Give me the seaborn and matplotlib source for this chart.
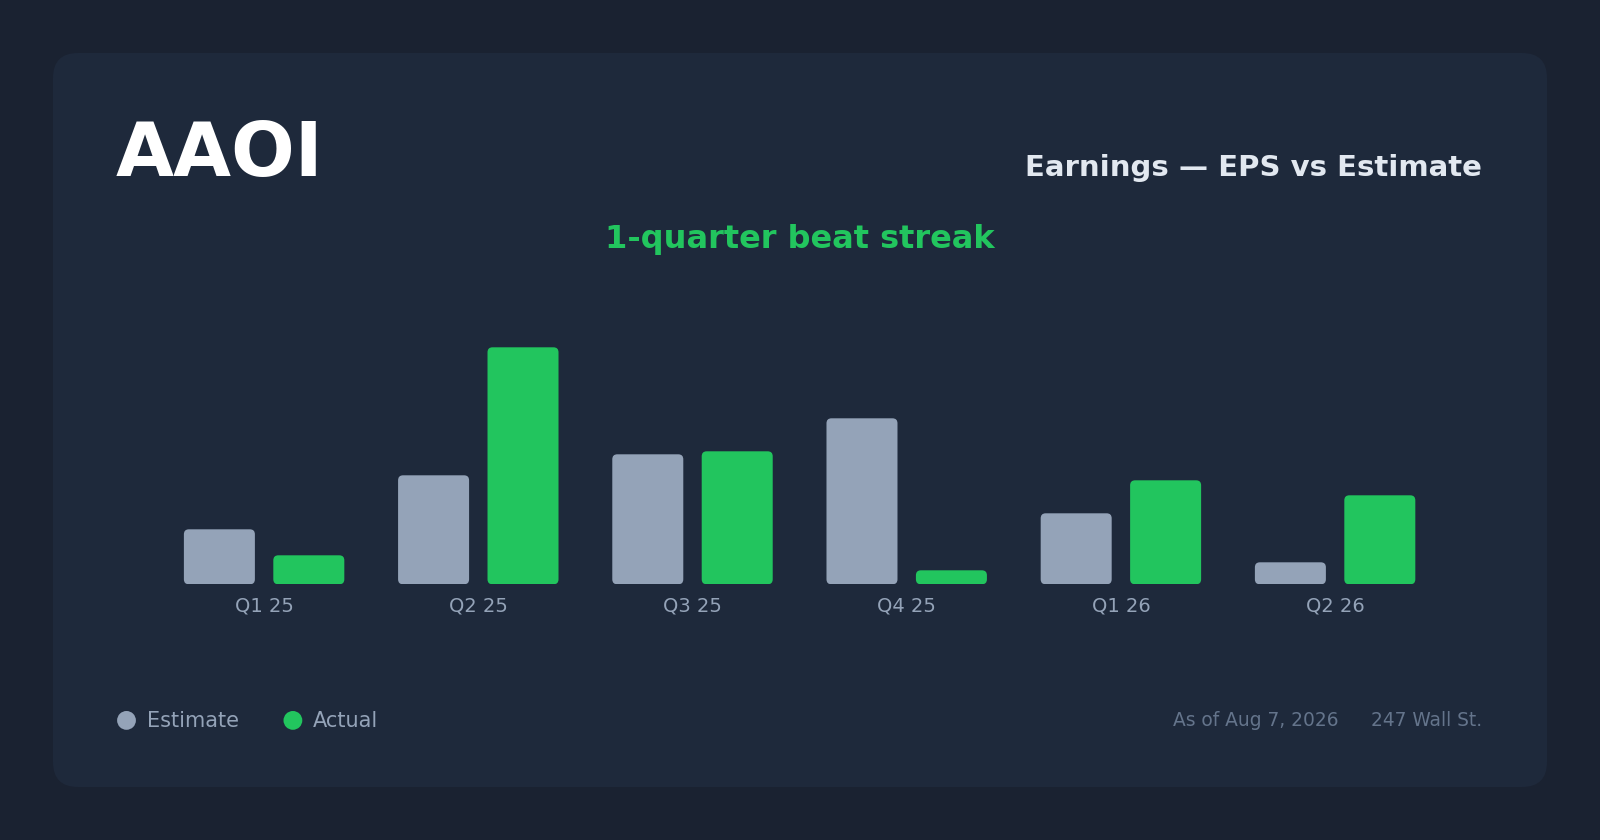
import numpy as np
import pandas as pd
import matplotlib
matplotlib.use("Agg")
import matplotlib.pyplot as plt
from matplotlib.patches import FancyBboxPatch, Circle
import seaborn as sns

# ---- data ----
quarters = ["Q1 25", "Q2 25", "Q3 25", "Q4 25", "Q1 26", "Q2 26"]
estimate = [0.055, 0.109, 0.130, 0.166, 0.071, 0.022]
actual = [0.029, 0.237, 0.133, 0.014, 0.104, 0.089]
series_names = ["Estimate", "Actual"]
ticker = "AAOI"
header = "Earnings \u2014 EPS vs Estimate"
streak_text = "1-quarter beat streak"
asof_text = "As of Aug 7, 2026"
source_text = "247 Wall St."

# ---- style ----
BG = "#1a2231"
CARD = "#1e293b"
C_EST = "#94a3b8"
C_ACT = "#22c55e"
MUTED = "#94a3b8"
FOOT = "#64748b"

sns.set_theme(style="white")
plt.rcParams["font.family"] = ["DejaVu Sans"]

df = pd.DataFrame({
    "Quarter": quarters * 2,
    "Series": [series_names[0]] * len(quarters) + [series_names[1]] * len(quarters),
    "EPS": estimate + actual,
})

W, H = 1600, 840
fig = plt.figure(figsize=(W / 100, H / 100), dpi=100, facecolor=BG)

# background / overlay axes in pixel coordinates
bg = fig.add_axes([0, 0, 1, 1], zorder=0)
bg.set_xlim(0, W)
bg.set_ylim(H, 0)
bg.axis("off")
bg.add_patch(FancyBboxPatch((53, 53), 1547 - 53, 787 - 53,
                            boxstyle="round,pad=0,rounding_size=25",
                            facecolor=CARD, edgecolor="none"))

# main bar axes
left, right = 157.0, 157.0 + 1285.2
base_y, top_y = 584.3, 324.3
ax = fig.add_axes([left / W, (H - base_y) / H, (right - left) / W, (base_y - top_y) / H], zorder=1)
ax.set_facecolor("none")

sns.barplot(data=df, x="Quarter", y="EPS", hue="Series", order=quarters,
            hue_order=series_names, palette=[C_EST, C_ACT],
            width=0.835, gap=0.206, legend=False, ax=ax, saturation=1)

ax.set_xlim(-0.5, len(quarters) - 0.5)
ax.set_ylim(0, 0.26)

# rounded bars built from the seaborn bar geometry
px_x = (right - left) / len(quarters)   # px per x unit
px_y = (base_y - top_y) / 0.26           # px per y unit
rad_px = 5.0
aspect = (1 / px_y) / (1 / px_x)
for p in list(ax.patches):
    x0, y0 = p.get_x(), p.get_y()
    w, h = p.get_width(), p.get_height()
    fc = p.get_facecolor()
    p.set_visible(False)
    rp = FancyBboxPatch((x0, y0), w, h,
                        boxstyle="round,pad=0,rounding_size=%f" % (rad_px / px_x),
                        mutation_aspect=aspect, facecolor=fc, edgecolor="none",
                        zorder=2)
    ax.add_patch(rp)

ax.set_xlabel("")
ax.set_ylabel("")
ax.set_yticks([])
ax.tick_params(axis="x", length=0, pad=8.5, labelsize=14, labelcolor=MUTED)
for s in ax.spines.values():
    s.set_visible(False)

# ---- texts ----
bg.text(116, 176, ticker, fontsize=54, fontweight="bold", color="white",
        ha="left", va="baseline")
bg.text(1482, 175.5, header, fontsize=21, fontweight="bold", color="#e2e8f0",
        ha="right", va="baseline")
bg.text(800, 248, streak_text, fontsize=23, fontweight="bold", color=C_ACT,
        ha="center", va="baseline")

# legend
leg_y = 720.4
for cx, tx, col, name in [(126.5, 147, C_EST, series_names[0]),
                          (292.9, 313.3, C_ACT, series_names[1])]:
    bg.add_patch(Circle((cx, leg_y), 9.4, facecolor=col, edgecolor="none"))
    bg.text(tx, leg_y + 0.5, name, fontsize=15, color=MUTED, ha="left", va="center")

# footer
bg.text(1338.8, leg_y + 0.5, asof_text, fontsize=13.4, color=FOOT, ha="right", va="center")
bg.text(1482, leg_y + 0.5, source_text, fontsize=13.4, color=FOOT, ha="right", va="center")

fig.savefig("out.png", dpi=100, facecolor=BG)
